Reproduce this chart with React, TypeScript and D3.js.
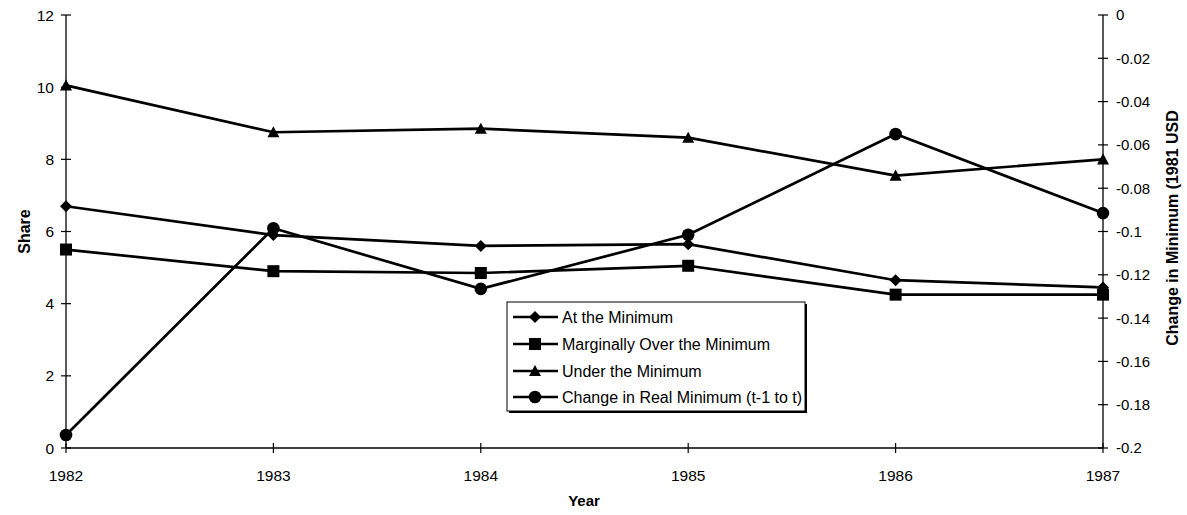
import React from "react";
import * as d3 from "d3";

const years = [1982, 1983, 1984, 1985, 1986, 1987];
const atMinimum = [6.7, 5.9, 5.6, 5.65, 4.65, 4.45];
const marginallyOver = [5.5, 4.9, 4.85, 5.05, 4.25, 4.25];
const underMinimum = [10.05, 8.75, 8.85, 8.6, 7.55, 8.0];
const changeRealMin = [-0.194, -0.0985, -0.1265, -0.1015, -0.055, -0.0915];
const leftTicks = [0, 2, 4, 6, 8, 10, 12];
const rightTicks = [0, -0.02, -0.04, -0.06, -0.08, -0.1, -0.12, -0.14, -0.16, -0.18, -0.2];
const legendLabels = [
  "At the Minimum",
  "Marginally Over the Minimum",
  "Under the Minimum",
  "Change in Real Minimum (t-1 to t)",
];

const W = 1187, H = 515;
const L = 66, R = 1103, T = 15, B = 448;
const FONT = "'Liberation Sans', Arial, Helvetica, sans-serif";

function Marker({ type, x, y }: { type: string; x: number; y: number }) {
  if (type === "diamond") {
    const s = 6;
    return <path d={`M${x},${y - s}L${x + s},${y}L${x},${y + s}L${x - s},${y}Z`} fill="#000" />;
  }
  if (type === "square") {
    const s = 6;
    return <rect x={x - s} y={y - s} width={2 * s} height={2 * s} fill="#000" />;
  }
  if (type === "triangle") {
    const s = 6;
    return <path d={`M${x},${y - s}L${x + s},${y + s * 0.85}L${x - s},${y + s * 0.85}Z`} fill="#000" />;
  }
  return <circle cx={x} cy={y} r={6.3} fill="#000" />;
}

export default function App() {
  const x = d3.scalePoint<number>().domain(years).range([L, R]);
  const yL = d3.scaleLinear().domain([0, 12]).range([B, T]);
  const yR = d3.scaleLinear().domain([-0.2, 0]).range([B, T]);
  const line = d3.line<[number, number]>().x((d) => d[0]).y((d) => d[1]);

  const series = [
    { vals: atMinimum, scale: yL, type: "diamond" },
    { vals: marginallyOver, scale: yL, type: "square" },
    { vals: underMinimum, scale: yL, type: "triangle" },
    { vals: changeRealMin, scale: yR, type: "circle" },
  ];

  const lx = 507, ly = 302, lw = 298, lh = 109;
  const rowY = [317, 344, 371, 397];

  return (
    <svg width={W} height={H} style={{ position: "absolute", left: 0, top: 0, background: "#fff" }} fontFamily={FONT}>
      <rect width={W} height={H} fill="#fff" />
      {/* axes */}
      <line x1={L} y1={T} x2={L} y2={B} stroke="#000" strokeWidth={1.3} />
      <line x1={R} y1={T} x2={R} y2={B} stroke="#000" strokeWidth={1.3} />
      <line x1={L} y1={B} x2={R} y2={B} stroke="#000" strokeWidth={1.3} />
      {leftTicks.map((t) => (
        <g key={"l" + t}>
          <line x1={L - 5} x2={L + 5} y1={yL(t)} y2={yL(t)} stroke="#000" strokeWidth={1.2} />
          <text x={L - 12} y={yL(t)} dy="0.36em" textAnchor="end" fontSize={15.5}>{t}</text>
        </g>
      ))}
      {rightTicks.map((t) => (
        <g key={"r" + t}>
          <line x1={R - 5} x2={R + 5} y1={yR(t)} y2={yR(t)} stroke="#000" strokeWidth={1.2} />
          <text x={R + 13} y={yR(t)} dy="0.36em" textAnchor="start" fontSize={15}>{String(t)}</text>
        </g>
      ))}
      {years.map((yr) => (
        <g key={"x" + yr}>
          <line x1={x(yr)} x2={x(yr)} y1={B - 5} y2={B + 5} stroke="#000" strokeWidth={1.2} />
          <text x={x(yr)} y={481} textAnchor="middle" fontSize={15.5}>{yr}</text>
        </g>
      ))}
      <text x={584} y={506} textAnchor="middle" fontSize={15} fontWeight="bold">Year</text>
      <text transform={`translate(30,${(T + B) / 2}) rotate(-90)`} textAnchor="middle" fontSize={16} fontWeight="bold">Share</text>
      <text transform={`translate(1178,228) rotate(-90)`} textAnchor="middle" fontSize={16} fontWeight="bold">Change in Minimum (1981 USD</text>

      {/* series */}
      {series.map((s, i) => {
        const pts: [number, number][] = s.vals.map((v, j) => [x(years[j])!, s.scale(v)]);
        return (
          <g key={"s" + i}>
            <path d={line(pts)!} fill="none" stroke="#000" strokeWidth={2.7} />
            {pts.map((p, j) => <Marker key={j} type={s.type} x={p[0]} y={p[1]} />)}
          </g>
        );
      })}

      {/* legend */}
      <rect x={lx + 2} y={ly + 2} width={lw} height={lh} fill="#000" />
      <rect x={lx} y={ly} width={lw} height={lh} fill="#fff" stroke="#000" strokeWidth={1} />
      {legendLabels.map((lab, i) => (
        <g key={"lg" + i}>
          <line x1={513} x2={558} y1={rowY[i]} y2={rowY[i]} stroke="#000" strokeWidth={2.7} />
          <Marker type={series[i].type} x={535} y={rowY[i]} />
          <text x={562} y={rowY[i]} dy="0.36em" fontSize={16}>{lab}</text>
        </g>
      ))}
    </svg>
  );
}
